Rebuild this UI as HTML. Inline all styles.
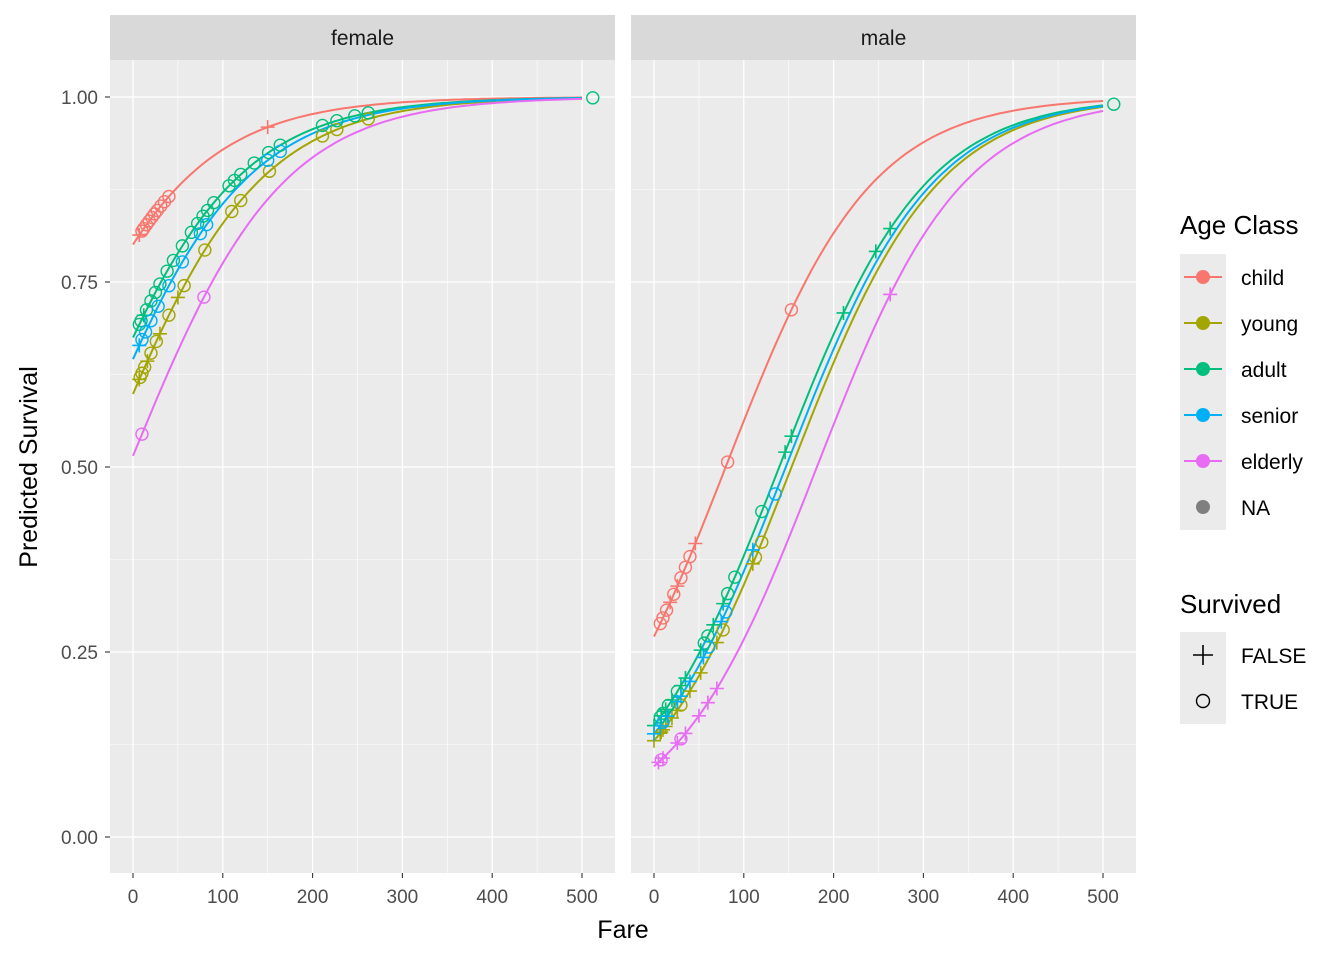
<!DOCTYPE html>
<html><head><meta charset="utf-8"><style>
body{margin:0;background:#fff;}
svg{display:block;font-family:"Liberation Sans",Arial,sans-serif;}
</style></head><body>
<svg id="chart" width="1344" height="960"></svg>
<script>
const ageClasses=["child","young","adult","senior","elderly"];
const colors=["#F8766D","#A3A500","#00BF7D","#00B0F6","#E76BF3"];
const panels=["female","male"];
const femaleIntercepts=[1.39,0.40,0.73,0.60,0.06];
const maleIntercepts=[-0.99,-1.90,-1.73,-1.82,-2.25];
const femaleSlope=0.0118;
const maleSlope=0.0124;
const xTicks=[0,100,200,300,400,500];
const yTicks=[0,0.25,0.5,0.75,1];
const yTickLabels=["0.00","0.25","0.50","0.75","1.00"];
const femaleChild=[[7,0],[10,1],[12,1],[15,1],[18,1],[21,1],[24,1],[27,1],[31,1],[35,1],[40,1],[150,0]];
const femaleYoung=[[7,0],[8,1],[10,1],[13,1],[16,0],[20,1],[26,1],[30,0],[40,1],[50,0],[57,1],[80,1],[110,1],[120,1],[152,1],[211,1],[227,1],[262,1]];
const femaleAdult=[[7,1],[9,1],[12,0],[15,1],[20,1],[25,1],[30,1],[38,1],[45,1],[55,1],[65,1],[72,1],[78,1],[83,1],[90,1],[107,1],[113,1],[120,1],[135,1],[151,1],[164,1],[211,1],[227,1],[247,1],[262,1],[512,1]];
const femaleSenior=[[7,0],[10,1],[14,1],[20,1],[28,1],[40,1],[55,1],[75,1],[82,1],[150,1],[164,1]];
const femaleElderly=[[10,1],[79,1]];
const maleChild=[[7,1],[10,1],[14,1],[18,0],[22,1],[26,0],[30,1],[35,1],[40,1],[46,0],[82,1],[153,1]];
const maleYoung=[[0,0],[7,0],[8,0],[10,0],[13,0],[20,0],[26,0],[30,1],[40,0],[52,0],[70,0],[77,1],[110,0],[113,1],[120,1]];
const maleAdult=[[0,0],[7,1],[8,0],[10,1],[13,0],[16,1],[20,0],[26,1],[30,0],[35,0],[52,0],[56,1],[60,1],[66,0],[77,0],[82,1],[90,1],[120,1],[146,0],[153,0],[211,0],[247,0],[263,0],[512,1]];
const maleSenior=[[0,0],[7,0],[10,1],[15,0],[26,0],[30,0],[40,0],[55,0],[61,1],[75,0],[80,1],[110,0],[135,1]];
const maleElderly=[[5,0],[8,1],[10,0],[26,0],[30,1],[35,0],[50,0],[60,0],[70,0],[263,0]];
const femalePts=[femaleChild,femaleYoung,femaleAdult,femaleSenior,femaleElderly];
const malePts=[maleChild,maleYoung,maleAdult,maleSenior,maleElderly];

const NS="http://www.w3.org/2000/svg";
const svg=document.getElementById("chart");
function mk(t,a,p){const e=document.createElementNS(NS,t);for(const k in a)e.setAttribute(k,a[k]);(p||svg).appendChild(e);return e;}
const panelX=[110,631],panelW=505,plotTop=60,plotBottom=873;
function xs(p,v){return panelX[p]+23+v*449/500;}
function ys(v){return 837-v*740;}
function pred(p,i,f){const a=p?maleIntercepts[i]:femaleIntercepts[i],b=p?maleSlope:femaleSlope;return 1/(1+Math.exp(-(a+b*f)));}

panels.forEach((pname,p)=>{
  const g=mk("g",{});
  
  
  const bg=mk("rect",{x:panelX[p],y:plotTop,width:panelW,height:plotBottom-plotTop,fill:"#EBEBEB"},g);
  
  
  const st=mk("rect",{x:panelX[p],y:15,width:panelW,height:45,fill:"#D9D9D9"},g);
  
  
  const stt=mk("text",{x:panelX[p]+panelW/2,y:45,"text-anchor":"middle","font-size":"21",fill:"#1A1A1A"},g);
  stt.textContent=pname;
  
  
  for(let k=0;k<xTicks.length;k++){
    const v=xTicks[k];
    if(k<xTicks.length-1)mk("line",{x1:xs(p,v+50),x2:xs(p,v+50),y1:plotTop,y2:plotBottom,stroke:"#fff","stroke-width":0.6},g);
    mk("line",{x1:xs(p,v),x2:xs(p,v),y1:plotTop,y2:plotBottom,stroke:"#fff","stroke-width":1.3},g);
    mk("line",{x1:xs(p,v),x2:xs(p,v),y1:plotBottom,y2:plotBottom+5,stroke:"#333","stroke-width":1.1},g);
    const t=mk("text",{x:xs(p,v),y:903,"text-anchor":"middle","font-size":"19",fill:"#4D4D4D"},g);
    t.textContent=v;
    
    
  }
  for(let k=0;k<yTicks.length;k++){
    const v=yTicks[k];
    if(k<yTicks.length-1)mk("line",{x1:panelX[p],x2:panelX[p]+panelW,y1:ys(v+0.125),y2:ys(v+0.125),stroke:"#fff","stroke-width":0.6},g);
    mk("line",{x1:panelX[p],x2:panelX[p]+panelW,y1:ys(v),y2:ys(v),stroke:"#fff","stroke-width":1.3},g);
  }
  for(let i=0;i<5;i++){
    let d="";
    for(let f=0;f<=500;f+=5)d+=(f?"L":"M")+xs(p,f).toFixed(1)+","+ys(pred(p,i,f)).toFixed(1);
    const c=mk("path",{d:d,fill:"none",stroke:colors[i],"stroke-width":2},g);
    
    
  }
  const pts=p?malePts:femalePts;
  for(let i=0;i<5;i++){
    pts[i].forEach(pt=>{
      const cx=xs(p,pt[0]),cy=ys(pred(p,i,pt[0]));
      let e;
      if(pt[1]){e=mk("circle",{cx:cx,cy:cy,r:6,fill:"none",stroke:colors[i],"stroke-width":1.4},g);}
      else{e=mk("path",{d:`M${cx-7},${cy}H${cx+7}M${cx},${cy-7}V${cy+7}`,stroke:colors[i],"stroke-width":1.6},g);}
      
      
    });
  }
});
for(let k=0;k<yTicks.length;k++){
  mk("line",{x1:105,x2:110,y1:ys(yTicks[k]),y2:ys(yTicks[k]),stroke:"#333","stroke-width":1.1});
  const t=mk("text",{x:98,y:ys(yTicks[k])+7,"text-anchor":"end","font-size":"19",fill:"#4D4D4D"});
  t.textContent=yTickLabels[k];
  
  
}
const xt=mk("text",{x:623,y:938,"text-anchor":"middle","font-size":"25",fill:"#000"});
xt.textContent="Fare";


const yt=mk("text",{x:0,y:0,transform:"translate(37,467) rotate(-90)","text-anchor":"middle","font-size":"25",fill:"#000"});
yt.textContent="Predicted Survival";


const lt=mk("text",{x:1180,y:234,"font-size":"26",fill:"#000"});
lt.textContent="Age Class";


mk("rect",{x:1180,y:254,width:46,height:276,fill:"#EBEBEB"});
const labs=ageClasses.concat(["NA"]);
labs.forEach((l,i)=>{
  const y=277+i*46;
  const c=i<5?colors[i]:"#7F7F7F";
  if(i<5)mk("line",{x1:1184,x2:1222,y1:y,y2:y,stroke:c,"stroke-width":2});
  mk("circle",{cx:1203,cy:y,r:7,fill:c});
  const t=mk("text",{x:1241,y:y+8,"font-size":"21",fill:"#000"});
  t.textContent=l;
  
  
});
const st2=mk("text",{x:1180,y:613,"font-size":"26",fill:"#000"});
st2.textContent="Survived";


mk("rect",{x:1180,y:632,width:46,height:92,fill:"#EBEBEB"});
mk("path",{d:"M1193,655H1213M1203,645V665",stroke:"#000","stroke-width":1.6});
mk("circle",{cx:1203,cy:701,r:6.5,fill:"none",stroke:"#000","stroke-width":1.4});
[["FALSE",655],["TRUE",701]].forEach(([l,y])=>{
  const t=mk("text",{x:1241,y:y+8,"font-size":"21",fill:"#000"});
  t.textContent=l;
  
  
});
</script>
</body></html>
